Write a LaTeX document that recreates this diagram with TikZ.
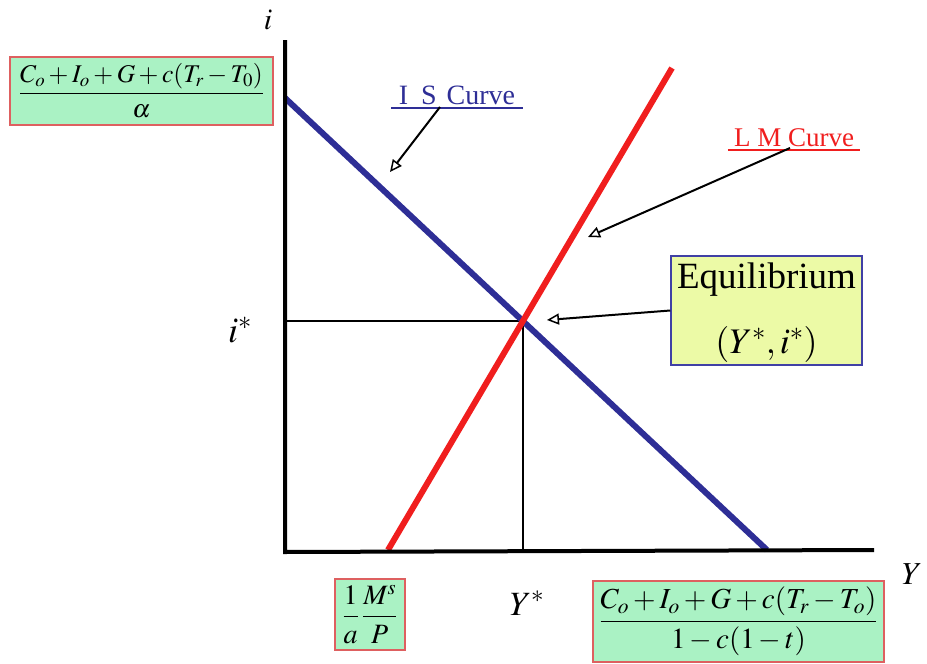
\documentclass[tikz,border=0pt]{standalone}
\usepackage{mathptmx}
\usepackage{amsmath}
\usepackage[no-math]{fontspec}
\setmainfont{Liberation Serif}
\usetikzlibrary{arrows.meta}
\definecolor{isblue}{RGB}{46,46,150}
\definecolor{lmred}{RGB}{240,30,30}
\definecolor{boxgreen}{RGB}{170,242,196}
\definecolor{boxred}{RGB}{222,96,96}
\definecolor{boxyellow}{RGB}{236,250,166}
\definecolor{boxblue}{RGB}{64,64,165}
\tikzset{
  axis/.style={line width=4pt,black},
  curveline/.style={line width=6pt},
  guide/.style={line width=1.5pt,black},
  pointer/.style={line width=2pt,black,-{Triangle[open,length=12pt,width=11pt,line width=1.5pt]}},
  greenbox/.style={draw=boxred,fill=boxgreen,line width=1.5pt,inner sep=0pt},
  eqbox/.style={draw=boxblue,fill=boxyellow,line width=1.5pt,inner sep=0pt},
  lbl/.style={inner sep=0pt},
}
\begin{document}
\begin{tikzpicture}[x=1pt,y=-1pt]
\useasboundingbox (0,0) rectangle (927,664);
% coordinates
\coordinate (O) at (285,550);
\coordinate (Ytop) at (285,40);
\coordinate (Xend) at (874,550);
\coordinate (ISa) at (285,98);
\coordinate (ISb) at (767,550);
\coordinate (LMa) at (388,550);
\coordinate (LMb) at (672,68);
\coordinate (E) at (523,321);
\coordinate (Ei) at (285,321);
\coordinate (EY) at (523,550);
\coordinate (ISpt) at (390,172);
\coordinate (LMpt) at (588,237);
\coordinate (Ept) at (547,320);
% guide lines
\draw[guide] (Ei) -- (E) -- (EY);
% curves
\draw[curveline,isblue] (ISa) -- (ISb);
\draw[curveline,lmred] (LMa) -- (LMb);
% axes
\draw[axis] (Ytop) -- (285,552) -- (Xend);
% axis labels
\node[lbl] (ilab) at (268,20) {\fontsize{30}{34}\selectfont $i$};
\node[lbl] (Ylab) at (912,574) {\fontsize{32}{36}\selectfont $Y$};
\node[lbl] (istar) at (240,330) {\fontsize{36}{40}\selectfont $i^{*}$};
\node[lbl] (Ystar) at (527,603) {\fontsize{34}{38}\selectfont $Y^{*}$};
% boxes
\node[greenbox,minimum width=263pt,minimum height=68pt] (topbox) at (141.5,91)
  {\fontsize{25.5}{30}\selectfont $\dfrac{C_o+I_o+G+c(T_r-T_0)}{\alpha}$};
\node[greenbox,minimum width=70pt,minimum height=71pt] (msbox) at (370,614.5)
  {\fontsize{28}{32}\selectfont $\dfrac{1}{a}\,\dfrac{M^s}{P}$};
\node[greenbox,minimum width=291pt,minimum height=81pt] (ybox) at (738.5,621.5)
  {\fontsize{29}{34}\selectfont $\dfrac{C_o+I_o+G+c(T_r-T_o)}{1-c(1-t)}$};
\node[eqbox,minimum width=191pt,minimum height=109pt] (eqb) at (766.5,310.5) {};
\node[lbl] (eqtxt) at ([yshift=31pt]eqb.center) {\fontsize{37}{42}\selectfont Equilibrium};
\node[lbl] (eqpt) at ([yshift=-34pt]eqb.center) {\fontsize{36}{42}\selectfont $(Y^{*},i^{*})$};
% curve labels
\node[lbl,text=isblue,anchor=south,minimum width=131pt,inner ysep=3pt] (islab) at (457,108)
  {\fontsize{28}{30}\selectfont I\hspace{13pt}S\hspace{10pt}Curve};
\draw[isblue,line width=1.5pt] (islab.south west) -- (islab.south east);
\node[lbl,text=lmred,anchor=south,minimum width=132pt,inner ysep=3pt] (lmlab) at (794,150)
  {\fontsize{27}{30}\selectfont L M Curve};
\draw[lmred,line width=1.5pt] (lmlab.south west) -- (lmlab.south east);
% pointers
\draw[pointer] ([xshift=-17pt,yshift=1pt]islab.south) -- (ISpt);
\draw[pointer] ([xshift=-4pt,yshift=2pt]lmlab.south) -- (LMpt);
\draw[pointer] (eqb.west) -- (Ept);
\end{tikzpicture}
\end{document}
